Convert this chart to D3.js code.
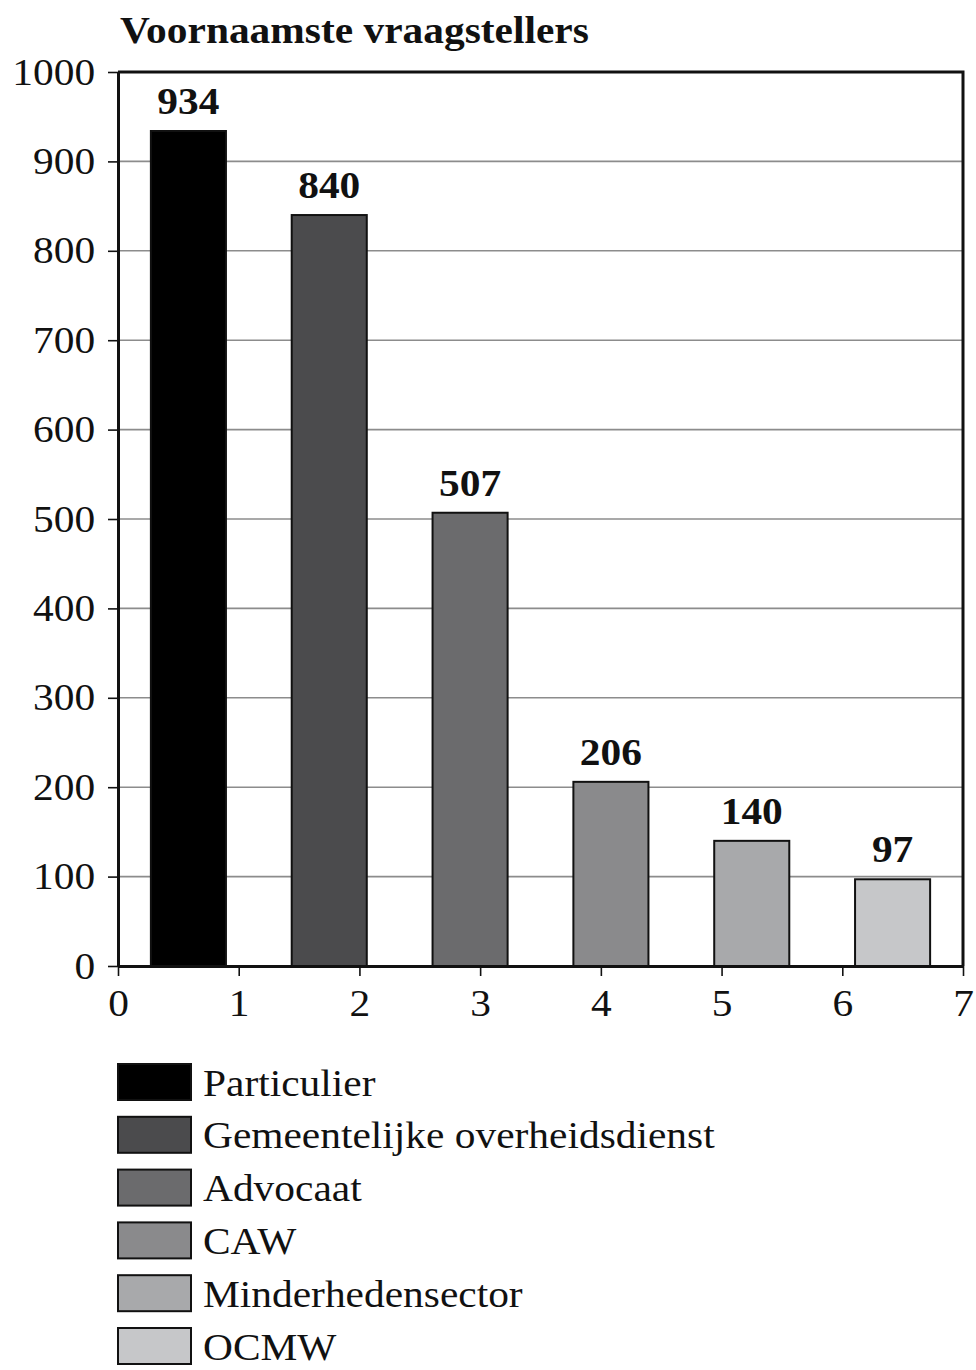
<!DOCTYPE html>
<html>
<head>
<meta charset="utf-8">
<script src="https://cdn.jsdelivr.net/npm/d3@7"></script>
<style>
  html, body { margin: 0; padding: 0; background: #fff; }
  svg { display: block; }
  text { font-family: "Liberation Serif", "Times New Roman", serif; fill: #111; }
</style>
</head>
<body>
<svg id="chart" width="976" height="1370"></svg>
<script>
// Categories, counts and fill greys
const categories = ["Particulier", "Gemeentelijke overheidsdienst", "Advocaat", "CAW", "Minderhedensector", "OCMW"];
const values = [934, 840, 507, 206, 140, 97];
const fills = ["#000000", "#4b4b4d", "#6b6b6d", "#8a8a8c", "#a8a9ab", "#c6c7c9"];
const yTicks = [0, 100, 200, 300, 400, 500, 600, 700, 800, 900, 1000];
const xTicks = [0, 1, 2, 3, 4, 5, 6, 7];
const title = "Voornaamste vraagstellers";

const svg = d3.select("#chart");
const SX = 1.09; // horizontal stretch of serif text

const plotLeft = 118, plotRight = 963, plotTop = 72, plotBottom = 966;

const y = d3.scaleLinear().domain([0, 1000]).range([plotBottom, plotTop]);
const xLin = d3.scaleLinear().domain([0, 7]).range([plotLeft, plotRight]);
const xBand = d3.scaleBand().domain(categories).range([plotLeft, plotRight])
  .paddingInner(0.467).paddingOuter(0.2335);
const intFmt = d3.format("d");

// Title
svg.append("text")
  .attr("transform", `translate(120,43) scale(${SX},1)`)
  .attr("font-size", 38).attr("font-weight", "bold")
  .text(title);

// Gridlines
svg.append("g").selectAll("line")
  .data(yTicks.filter(d => d > 0 && d < 1000))
  .join("line")
  .attr("x1", plotLeft).attr("x2", plotRight)
  .attr("y1", d => y(d)).attr("y2", d => y(d))
  .attr("stroke", "#8c8c8c").attr("stroke-width", 1.6);

// Bars
svg.append("g").selectAll("rect")
  .data(categories)
  .join("rect")
  .attr("x", d => xBand(d))
  .attr("width", xBand.bandwidth())
  .attr("y", (d, i) => y(values[i]))
  .attr("height", (d, i) => y(0) - y(values[i]))
  .attr("fill", (d, i) => fills[i])
  .attr("stroke", "#111").attr("stroke-width", 2);

// Value labels
svg.append("g").selectAll("text")
  .data(categories)
  .join("text")
  .attr("transform", (d, i) => `translate(${xBand(d) + xBand.bandwidth() / 2},${y(values[i]) - 17}) scale(${SX},1)`)
  .attr("text-anchor", "middle")
  .attr("font-size", 38).attr("font-weight", "bold")
  .text((d, i) => values[i]);

// Frame: top and right edges
svg.append("path")
  .attr("d", `M${plotLeft},${plotTop}H${plotRight}V${plotBottom}`)
  .attr("fill", "none").attr("stroke", "#111").attr("stroke-width", 3);

// Y axis
const gy = svg.append("g")
  .attr("transform", `translate(${plotLeft},0)`)
  .call(d3.axisLeft(y).tickValues(yTicks).tickFormat(intFmt)
    .tickSize(10).tickPadding(11).tickSizeOuter(0));
gy.select(".domain").attr("stroke", "#111").attr("stroke-width", 3);
gy.selectAll(".tick line").attr("stroke", "#111").attr("stroke-width", 1.6);
gy.selectAll(".tick text")
  .attr("font-size", 38)
  .attr("font-family", "Liberation Serif, Times New Roman, serif")
  .attr("fill", "#111")
  .attr("transform", `scale(${SX},1)`);

// X axis
const gx = svg.append("g")
  .attr("transform", `translate(0,${plotBottom})`)
  .call(d3.axisBottom(xLin).tickValues(xTicks).tickFormat(intFmt)
    .tickSize(10).tickPadding(13).tickSizeOuter(0));
gx.select(".domain").attr("stroke", "#111").attr("stroke-width", 3);
gx.selectAll(".tick line").attr("stroke", "#111").attr("stroke-width", 1.6);
gx.selectAll(".tick text")
  .attr("font-size", 38)
  .attr("font-family", "Liberation Serif, Times New Roman, serif")
  .attr("fill", "#111")
  .attr("transform", `scale(${SX},1)`);

// Legend
const legendTop = 1064, legendStep = 52.8;
const lg = svg.append("g").selectAll("g")
  .data(categories)
  .join("g")
  .attr("transform", (d, i) => `translate(117,${legendTop + i * legendStep})`);
lg.append("rect")
  .attr("x", 1).attr("y", 0).attr("width", 73).attr("height", 36)
  .attr("fill", (d, i) => fills[i])
  .attr("stroke", "#111").attr("stroke-width", 2);
lg.append("text")
  .attr("transform", `translate(86,31.5) scale(${SX},1)`)
  .attr("font-size", 38)
  .text(d => d);
</script>
</body>
</html>
